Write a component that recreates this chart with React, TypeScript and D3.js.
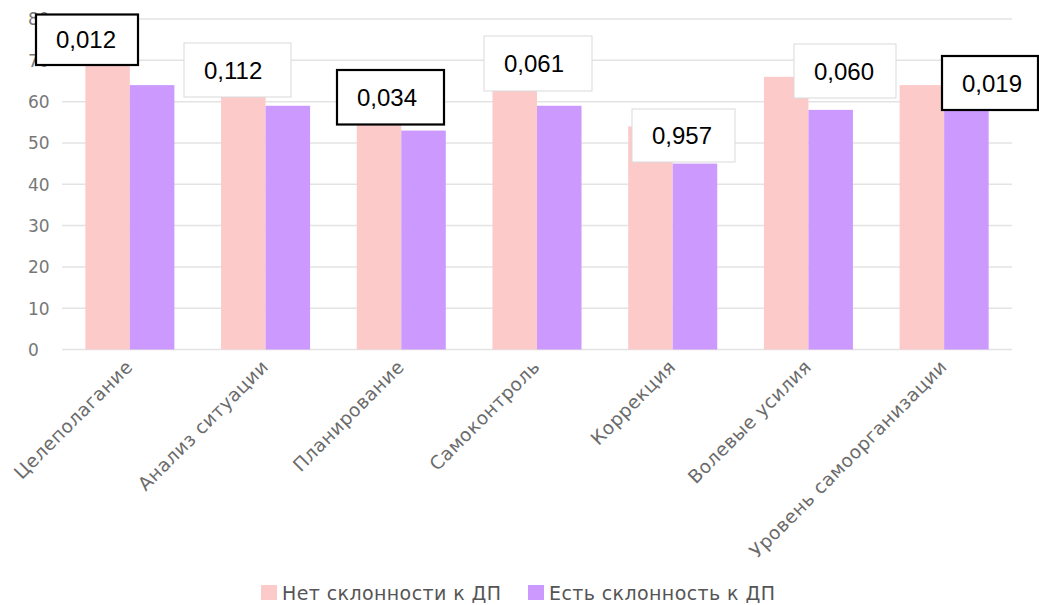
import React from "react";
import * as d3 from "d3";

const categories = [
  "Целеполагание",
  "Анализ ситуации",
  "Планирование",
  "Самоконтроль",
  "Коррекция",
  "Волевые усилия",
  "Уровень самоорганизации",
];
const seriesNames = ["Нет склонности к ДП", "Есть склонность к ДП"];
const noTendency = [70, 62, 55, 63, 54, 66, 64];
const withTendency = [64, 59, 53, 59, 45, 58, 58];
const pValues = ["0,012", "0,112", "0,034", "0,061", "0,957", "0,060", "0,019"];
const significant = [true, false, true, false, false, false, true];
const yTicks = [0, 10, 20, 30, 40, 50, 60, 70, 80];

// annotation box layout (left, top, width, height)
const boxLayout = [
  [36, 14.5, 102, 50.5],
  [184, 43, 107, 54],
  [337, 70, 107, 54.5],
  [484, 36, 108, 55],
  [632, 109, 103, 53],
  [794, 44, 102, 54],
  [942, 56, 96, 54],
];

const W = 1039;
const H = 605;
const colors = ["#FDCACA", "#CC99FF"];
const axisFont = "'DejaVu Sans', sans-serif";
const boxFont = "'Liberation Sans', Arial, sans-serif";

export default function App() {
  const x = d3.scaleBand<string>().domain(categories).range([62, 1012]).paddingInner(0.344).paddingOuter(0.172);
  const inner = d3.scaleBand<number>().domain([0, 1]).range([0, x.bandwidth()]);
  const y = d3.scaleLinear().domain([0, 80]).range([349.5, 19]);
  const series = [noTendency, withTendency];

  return (
    <svg width={W} height={H} style={{ position: "absolute", left: 0, top: 0, background: "#fff" }}>
      {yTicks.map((t) => (
        <g key={t}>
          <line x1={62} x2={1012} y1={y(t)} y2={y(t)} stroke="#e3e3e3" strokeWidth={1.5} />
          <text x={28} y={y(t)} dy="0.38em" textAnchor="start" fontFamily={axisFont} fontSize={17} fill="#777">
            {t}
          </text>
        </g>
      ))}
      {categories.map((c, i) => (
        <g key={c} transform={`translate(${x(c)},0)`}>
          {series.map((s, k) => (
            <rect key={k} x={inner(k)} width={inner.bandwidth()} y={y(s[i])} height={y(0) - y(s[i])} fill={colors[k]} />
          ))}
        </g>
      ))}
      {categories.map((c) => {
        const cx = (x(c) as number) + x.bandwidth() / 2 + 4;
        return (
          <text
            key={c}
            transform={`translate(${cx},368) rotate(-45)`}
            textAnchor="end"
            fontFamily={axisFont}
            fontSize={18.5}
            letterSpacing={0.5}
            fill="#6b6b6b"
          >
            {c}
          </text>
        );
      })}
      {pValues.map((p, i) => {
        const [bx, by, bw, bh] = boxLayout[i];
        const sig = significant[i];
        return (
          <g key={i}>
            <rect
              x={bx}
              y={by}
              width={bw}
              height={bh}
              fill="#fff"
              stroke={sig ? "#000" : "#d9d9d9"}
              strokeWidth={sig ? 2.2 : 1}
            />
            <text x={bx + 20} y={by + bh / 2} dy="0.36em" fontFamily={boxFont} fontSize={24} fill="#000">
              {p}
            </text>
          </g>
        );
      })}
      {seriesNames.map((n, k) => {
        const lx = k === 0 ? 261 : 528;
        return (
          <g key={n}>
            <rect x={lx} y={585} width={16} height={15} fill={colors[k]} />
            <text x={lx + 21} y={593} dy="0.36em" fontFamily={axisFont} fontSize={19} letterSpacing={0.4} fill="#555">
              {n}
            </text>
          </g>
        );
      })}
    </svg>
  );
}
